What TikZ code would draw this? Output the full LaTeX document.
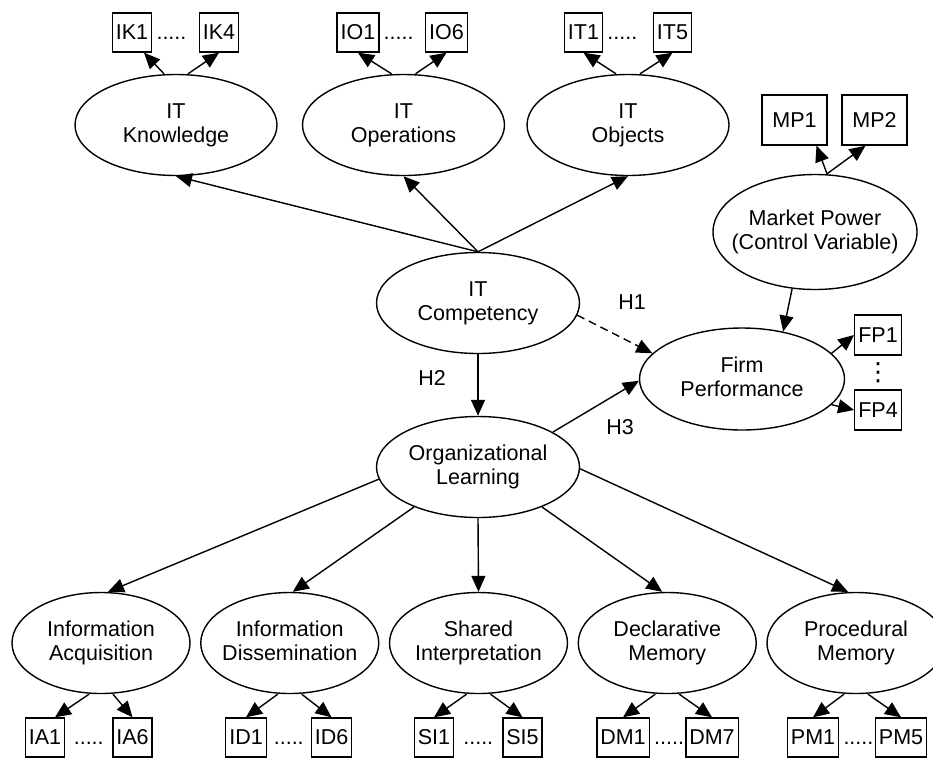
\documentclass[tikz,border=0pt]{standalone}
\usepackage{fontspec}
\setmainfont{Liberation Sans}
\newfontfamily\symfont{DejaVu Sans}
\usetikzlibrary{arrows.meta,shapes.geometric}
\newcommand{\twol}[2]{\makebox[0pt]{#1\vphantom{Ig}}\\\makebox[0pt]{#2\vphantom{Ig}}}
\begin{document}
\begin{tikzpicture}[x=1pt,y=-1pt,
  every node/.style={font=\fontsize{21.5}{24}\selectfont},
  ell/.style={ellipse, draw, line width=1.4pt, inner sep=0pt, minimum width=202pt, minimum height=101pt, align=center},
  ind/.style={rectangle, draw, line width=1.4pt, minimum height=39pt, inner xsep=3.5pt, inner ysep=0pt},
  arr/.style={line width=1.4pt, -{Triangle[length=16pt,width=14pt]}},
  dotsx/.style={inner sep=0pt},
  lbl/.style={inner sep=0pt}]
\useasboundingbox (0,0) rectangle (933,758);

% latent constructs
\node[ell] (itk) at (176,125) {\twol{IT}{Knowledge}};
\node[ell] (ito) at (403.5,125) {\twol{IT}{Operations}};
\node[ell] (itj) at (628,125) {\twol{IT}{Objects}};
\node[ell, minimum width=204pt, minimum height=115pt] (mp) at (815,232) {\twol{Market Power}{(Control Variable)}};
\node[ell, minimum width=203pt] (itc) at (478,303) {\twol{IT}{Competency}};
\node[ell, minimum width=205pt, minimum height=102pt] (fp) at (742,379) {\twol{Firm}{Performance}};
\node[ell, minimum width=203pt] (ol) at (478,467) {\twol{Organizational}{Learning}};
\node[ell, minimum width=178pt] (ia) at (101,643) {\twol{Information}{Acquisition}};
\node[ell, minimum width=178pt] (id) at (289.75,643) {\twol{Information}{Dissemination}};
\node[ell, minimum width=178pt] (si) at (478.5,643) {\twol{Shared}{Interpretation}};
\node[ell, minimum width=178pt] (dm) at (667.25,643) {\twol{Declarative}{Memory}};
\node[ell, minimum width=178pt] (pm) at (856,643) {\twol{Procedural}{Memory}};

% indicators top
\node[ind] (ik1) at (132,32.5) {IK1};
\node[ind] (ik4) at (219,32.5) {IK4};
\node[ind] (io1) at (358,32.5) {IO1};
\node[ind] (io6) at (446.5,32.5) {IO6};
\node[ind] (it1) at (583.5,32.5) {IT1};
\node[ind] (it5) at (672.5,32.5) {IT5};
\node[dotsx, anchor=base west] (dk) at ([xshift=4pt]ik1.base east) {.....};
\node[dotsx, anchor=base west] (do) at ([xshift=4pt]io1.base east) {.....};
\node[dotsx, anchor=base west] (dt) at ([xshift=4pt]it1.base east) {.....};

% market power indicators
\node[ind, minimum width=65pt, minimum height=50pt] (mp1) at (794.5,120) {MP1};
\node[ind, minimum width=65pt, minimum height=50pt] (mp2) at (874.5,120) {MP2};

% firm performance indicators
\node[ind, minimum height=40pt] (fp1) at (878,335) {FP1};
\node[ind, minimum height=40pt] (fp4) at (878,410) {FP4};
\node[dotsx, font=\symfont\fontsize{25}{25}\selectfont] (dfp) at (878,373) {⋮};

% indicators bottom
\node[ind] (ia1) at (45,737.5) {IA1};
\node[ind] (ia6) at (132.5,737.5) {IA6};
\node[ind] (id1) at (246,737.5) {ID1};
\node[ind] (id6) at (331.5,737.5) {ID6};
\node[ind] (si1) at (434,737.5) {SI1};
\node[ind] (si5) at (522.5,737.5) {SI5};
\node[ind] (dm1) at (623,737.5) {DM1};
\node[ind] (dm7) at (712,737.5) {DM7};
\node[ind] (pm1) at (813,737.5) {PM1};
\node[ind] (pm5) at (901,737.5) {PM5};
\path (ia1.base east) -- (ia6.base west) node[dotsx, midway, anchor=base] {.....};
\path (id1.base east) -- (id6.base west) node[dotsx, midway, anchor=base] {.....};
\path (si1.base east) -- (si5.base west) node[dotsx, midway, anchor=base] {.....};
\node[dotsx, anchor=base west] at ([xshift=4pt]dm1.base east) {.....};
\node[dotsx, anchor=base west] at ([xshift=4pt]pm1.base east) {.....};

% hypothesis labels
\node[lbl] (h1) at (632,302) {H1};
\node[lbl] (h2) at (432,378) {H2};
\node[lbl] (h3) at (620,427) {H3};

% structural paths
\draw[arr] (itc.north) -- (itk.south);
\draw[arr] (itc.north) -- (ito.south);
\draw[arr] (itc.north) -- (itj.south);
\draw[arr] (itc.south) -- (ol.north);
\draw[arr, dash pattern=on 8pt off 5pt] (itc.-7) -- (fp.164);
\draw[arr] (ol.25) -- (fp.181);
\draw[arr] (mp.248.6) -- (fp.49);
\draw[arr] (ol.187) -- ([xshift=7pt]ia.north);
\draw[arr] (ol.212) -- ([xshift=3pt]id.north);
\draw[arr] (ol.south) -- (si.north);
\draw[arr] (ol.328) -- ([xshift=-5pt]dm.north);
\draw[arr] (ol.359) -- ([xshift=-8pt]pm.north);

% measurement paths top
\draw[arr] ([xshift=-12pt]itk.north) -- ([xshift=12pt]ik1.south);
\draw[arr] ([xshift=12pt]itk.north) -- (ik4.south);
\draw[arr] ([xshift=-12pt]ito.north) -- (io1.south);
\draw[arr] ([xshift=12pt]ito.north) -- (io6.south);
\draw[arr] ([xshift=-12pt]itj.north) -- (it1.south);
\draw[arr] ([xshift=12pt]itj.north) -- (it5.south);
\draw[arr] ([xshift=12pt]mp.north) -- ([xshift=22pt]mp1.south);
\draw[arr] ([xshift=12pt]mp.north) -- ([xshift=-9pt]mp2.south);
\draw[arr] (fp.16) -- (fp1.west);
\draw[arr] (fp.-16) -- (fp4.west);

% measurement paths bottom
\draw[arr] ([xshift=-12pt]ia.south) -- ([xshift=10pt]ia1.north);
\draw[arr] ([xshift=12pt]ia.south) -- (ia6.north);
\draw[arr] ([xshift=-12pt]id.south) -- (id1.north);
\draw[arr] ([xshift=12pt]id.south) -- (id6.north);
\draw[arr] ([xshift=-12pt]si.south) -- (si1.north);
\draw[arr] ([xshift=12pt]si.south) -- (si5.north);
\draw[arr] ([xshift=-12pt]dm.south) -- (dm1.north);
\draw[arr] ([xshift=12pt]dm.south) -- (dm7.north);
\draw[arr] ([xshift=-12pt]pm.south) -- (pm1.north);
\draw[arr] ([xshift=12pt]pm.south) -- (pm5.north);
\end{tikzpicture}
\end{document}
